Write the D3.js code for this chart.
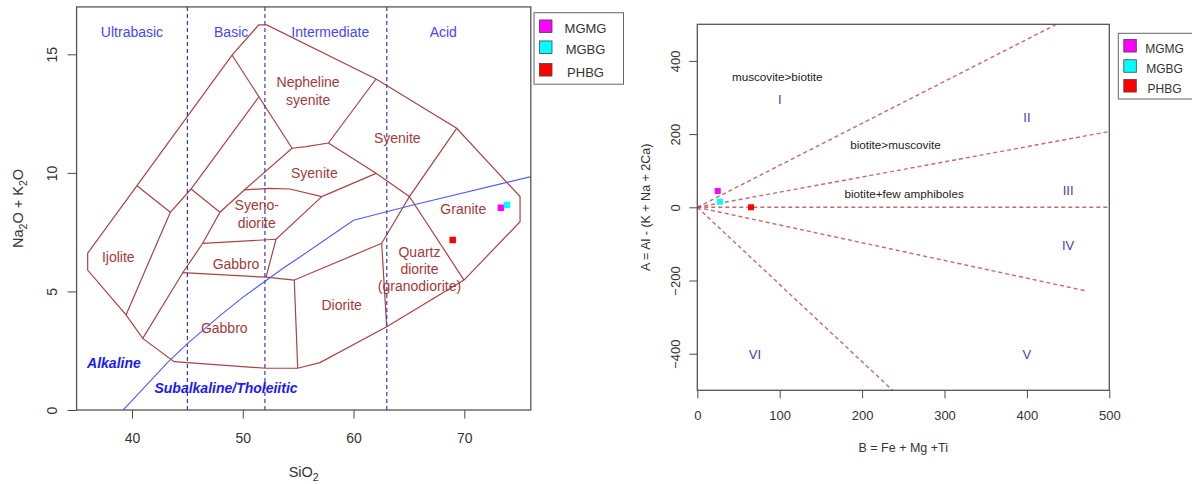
<!DOCTYPE html>
<html>
<head>
<meta charset="utf-8">
<script src="https://cdn.jsdelivr.net/npm/d3@7"></script>
<style>
  body { margin: 0; background: #fff; }
  svg { display: block; }
  text { font-family: "Liberation Sans", Arial, Helvetica, sans-serif; }
</style>
</head>
<body>
<svg id="chart" width="1192" height="484"></svg>
<script>
// ---------------- sample data ----------------
const groups  = ["MGMG", "MGBG", "PHBG"];
const sio2    = [73.3, 73.85, 68.95];   // wt% SiO2
const alkalis = [8.53, 8.65, 7.17];     // wt% Na2O + K2O
const paramB  = [24.8, 27.5, 65.2];     // B = Fe + Mg + Ti
const paramA  = [44.5, 15.3, 0];        // A = Al - (K + Na + 2Ca)

// ---------------- TAS plutonic grid (Cox et al. 1979) ----------------
const tasOutline = [[51.44,16.24],[52.16,16.24],[62.03,13.96],[69.31,11.88],[75.03,9.0],[75.03,7.94],
  [69.97,5.48],[62.99,3.51],[56.97,2.0],[54.96,1.76],[52.1,1.76],[43.8,2.04],[40.97,3.02],[39.46,4.01],
  [36.0,5.9],[36.0,6.61],[40.45,9.46],[49.03,14.97]];
const tasDividers = [
  [[49.03,14.97],[54.45,11.04]],
  [[51.44,13.2],[45.33,9.32],[43.46,8.34],[39.46,4.01]],
  [[40.45,9.46],[43.46,8.34]],
  [[45.33,9.32],[47.94,8.34]],
  [[54.45,11.04],[50.14,9.28],[47.94,8.34],[46.38,7.03],[44.58,5.79],[40.97,3.02]],
  [[54.45,11.04],[55.71,11.11],[57.73,11.26],[62.03,13.96]],
  [[57.73,11.26],[62.03,9.98],[65.04,9.0]],
  [[69.31,11.88],[65.04,9.0],[69.97,5.48]],
  [[65.04,9.0],[62.54,7.03],[62.99,3.51]],
  [[62.54,7.03],[54.65,5.48],[54.96,1.76]],
  [[62.03,9.98],[57.13,9.0]],
  [[50.14,9.28],[52.4,9.35],[54.26,9.32],[57.13,9.0]],
  [[57.13,9.0],[53.0,7.2],[52.1,5.6]],
  [[46.38,7.03],[53.0,7.2]],
  [[44.58,5.79],[52.1,5.6],[54.65,5.48]]
];
const fieldNames = ["Nepheline\nsyenite", "Syenite", "Syenite", "Syeno-\ndiorite", "Gabbro", "Gabbro",
  "Ijolite", "Diorite", "Quartz\ndiorite\n(granodiorite)", "Granite"];
const fieldSiO2 = [55.9, 63.95, 56.46, 51.26, 49.39, 48.33, 38.76, 58.93, 65.95, 69.91];
const fieldAlk  = [13.45, 11.48, 10.0, 8.27, 6.14, 3.45, 6.47, 4.43, 5.95, 8.46];

const silicaBounds = [45, 52, 63];
const silicaClasses = ["Ultrabasic", "Basic", "Intermediate", "Acid"];
const silicaClassX  = [40, 48.95, 57.9, 68.1];

// Irvine & Baragar (1971) alkaline / subalkaline divide
const alkLineSiO2 = [39.2, 40, 43.2, 45, 48, 50, 53.7, 55, 60, 65, 77.4];
const alkLineAlk  = [0, 0.4, 2, 2.8, 4, 4.75, 6, 6.4, 8, 8.6, 10];

const seriesNames = ["Alkaline", "Subalkaline/Tholeiitic"];
const seriesSiO2  = [38.37, 48.49];
const seriesAlk   = [1.97, 0.94];

// ---------------- A-B diagram (Debon & Le Fort) ----------------
const abDividerEnds = [[436, 500], [500, 207], [500, 0], [471, -228], [237, -500]];
const abSectors  = ["I", "II", "III", "IV", "V", "VI"];
const abSectorB  = [100, 400, 450, 450, 400, 70];
const abSectorA  = [296, 246, 45, -103, -402, -402];
const abNotes    = ["muscovite>biotite", "biotite>muscovite", "biotite+few amphiboles"];
const abNoteB    = [97, 240.5, 251];
const abNoteA    = [355, 170, 35.5];

const xTicksL = [40, 50, 60, 70];
const yTicksL = [0, 5, 10, 15];
const xTicksR = [0, 100, 200, 300, 400, 500];
const yTicksR = [-400, -200, 0, 200, 400];

// ---------------- drawing ----------------
const svg = d3.select("#chart");
svg.append("rect").attr("width", 1192).attr("height", 484).attr("fill", "#fff");

const groupColor = d3.scaleOrdinal().domain(groups).range(["#ff00ff", "#00ffff", "#ff0000"]);
const axisColor = "#4a4a4a";
const textColor = "#333";

function styleAxis(g) {
  g.selectAll("path.domain").remove();
  g.selectAll("line").attr("stroke", axisColor).attr("stroke-width", 1);
  g.selectAll("text").attr("fill", textColor);
}

// ===== left panel: TAS =====
const xL = d3.scaleLinear().domain([35, 76]).range([76.6, 530.8]);
const yL = d3.scaleLinear().domain([0, 17]).range([410, 6.9]);
const lineL = d3.line().x(d => xL(d[0])).y(d => yL(d[1]));

svg.append("clipPath").attr("id", "clipL").append("rect")
  .attr("x", xL(35)).attr("y", yL(17)).attr("width", xL(76) - xL(35)).attr("height", yL(0) - yL(17));
const gL = svg.append("g").attr("clip-path", "url(#clipL)");

// field outline and internal boundaries
gL.append("path").attr("d", lineL(tasOutline) + "Z")
  .attr("fill", "none").attr("stroke", "#a84444").attr("stroke-width", 1.2);
gL.selectAll("path.div").data(tasDividers).join("path").attr("class", "div")
  .attr("d", d => lineL(d)).attr("fill", "none").attr("stroke", "#a84444").attr("stroke-width", 1.2);

// silica-class boundaries
gL.selectAll("line.sil").data(silicaBounds).join("line").attr("class", "sil")
  .attr("x1", d => xL(d)).attr("x2", d => xL(d)).attr("y1", yL(17)).attr("y2", yL(0))
  .attr("stroke", "#3c3cb4").attr("stroke-width", 1.2).attr("stroke-dasharray", "4,3");

// alkaline / subalkaline curve
gL.append("path").attr("d", lineL(alkLineSiO2.map((s, i) => [s, alkLineAlk[i]])))
  .attr("fill", "none").attr("stroke", "#4d5cff").attr("stroke-width", 1.1);

// field names
const fieldText = gL.selectAll("text.field").data(fieldNames).join("text").attr("class", "field")
  .attr("text-anchor", "middle").attr("font-size", 14).attr("fill", "#a33a3a")
  .attr("x", (d, i) => xL(fieldSiO2[i])).attr("y", (d, i) => yL(fieldAlk[i]));
fieldText.each(function (d) {
  const lines = d.split("\n");
  const el = d3.select(this);
  const x = el.attr("x");
  lines.forEach((t, k) => {
    el.append("tspan").attr("x", x)
      .attr("dy", k === 0 ? ((-(lines.length - 1) / 2) * 17.2 + 5) : 17.2).text(t);
  });
});

// silica class names
gL.selectAll("text.cls").data(silicaClasses).join("text").attr("class", "cls")
  .attr("x", (d, i) => xL(silicaClassX[i])).attr("y", yL(15.95)).attr("dy", 5)
  .attr("text-anchor", "middle").attr("font-size", 14).attr("fill", "#4646ff").text(d => d);

// series names
gL.selectAll("text.ser").data(seriesNames).join("text").attr("class", "ser")
  .attr("x", (d, i) => xL(seriesSiO2[i])).attr("y", (d, i) => yL(seriesAlk[i])).attr("dy", 5)
  .attr("text-anchor", "middle").attr("font-size", 14).attr("font-weight", "bold")
  .attr("font-style", "italic").attr("fill", "#1a1aff").text(d => d);

// samples
const ptL = 6.5;
gL.selectAll("rect.pt").data(groups).join("rect").attr("class", "pt")
  .attr("x", (d, i) => xL(sio2[i]) - ptL / 2).attr("y", (d, i) => yL(alkalis[i]) - ptL / 2)
  .attr("width", ptL).attr("height", ptL).attr("fill", d => groupColor(d));

// frame and axes
svg.append("rect").attr("x", xL(35)).attr("y", yL(17)).attr("width", xL(76) - xL(35))
  .attr("height", yL(0) - yL(17)).attr("fill", "none").attr("stroke", "#555").attr("stroke-width", 1.3);

const axXL = svg.append("g").attr("transform", `translate(0,${yL(0)})`)
  .call(d3.axisBottom(xL).tickValues(xTicksL).tickSize(8.5).tickFormat(d3.format("d")));
styleAxis(axXL);
axXL.selectAll("text").attr("font-size", 14).attr("y", 23).attr("dy", "0.71em");

const axYL = svg.append("g").attr("transform", `translate(${xL(35)},0)`)
  .call(d3.axisLeft(yL).tickValues(yTicksL).tickSize(9).tickFormat(d3.format("d")));
styleAxis(axYL);
axYL.selectAll("text").attr("font-size", 14).attr("transform", "rotate(-90)")
  .attr("x", 0).attr("y", -19.5).attr("dy", 0).attr("text-anchor", "middle");

// axis titles
const tSi = svg.append("text").attr("x", (xL(35) + xL(76)) / 2).attr("y", 477)
  .attr("text-anchor", "middle").attr("font-size", 14.5).attr("fill", textColor);
tSi.append("tspan").text("SiO");
tSi.append("tspan").attr("font-size", 10.5).attr("dy", 4).text("2");

const tAlk = svg.append("text")
  .attr("transform", `translate(23,${(yL(0) + yL(17)) / 2}) rotate(-90)`)
  .attr("text-anchor", "middle").attr("font-size", 14.5).attr("fill", textColor);
tAlk.append("tspan").text("Na");
tAlk.append("tspan").attr("font-size", 10.5).attr("dy", 4).text("2");
tAlk.append("tspan").attr("dy", -4).text("O + K");
tAlk.append("tspan").attr("font-size", 10.5).attr("dy", 4).text("2");
tAlk.append("tspan").attr("dy", -4).text("O");

// legend (left)
function legend(x0, y0, w, h, sw, rowY, textX, fs) {
  const g = svg.append("g");
  g.append("rect").attr("x", x0).attr("y", y0).attr("width", w).attr("height", h)
    .attr("fill", "#fff").attr("stroke", "#666").attr("stroke-width", 1);
  g.selectAll("rect.sw").data(groups).join("rect").attr("class", "sw")
    .attr("x", x0 + 5.5).attr("y", (d, i) => rowY[i] - sw / 2).attr("width", sw).attr("height", sw)
    .attr("fill", d => groupColor(d)).attr("stroke", "#444").attr("stroke-width", 0.8);
  g.selectAll("text").data(groups).join("text")
    .attr("x", textX).attr("y", (d, i) => rowY[i] + 2.5).attr("dy", "0.35em")
    .attr("text-anchor", "middle").attr("font-size", fs).attr("fill", textColor).text(d => d);
}
legend(534, 12.7, 89.5, 71.5, 12.5, [26.2, 47.2, 69.8], 585.5, 13);

// ===== right panel: A-B diagram =====
const xR = d3.scaleLinear().domain([0, 500]).range([697.3, 1109.3]);
const yR = d3.scaleLinear().domain([-500, 500]).range([390.3, 24.3]);

svg.append("clipPath").attr("id", "clipR").append("rect")
  .attr("x", xR(0)).attr("y", yR(500)).attr("width", xR(500) - xR(0)).attr("height", yR(-500) - yR(500));
const gR = svg.append("g").attr("clip-path", "url(#clipR)");

gR.selectAll("line.ab").data(abDividerEnds).join("line").attr("class", "ab")
  .attr("x1", xR(0)).attr("y1", yR(0)).attr("x2", d => xR(d[0])).attr("y2", d => yR(d[1]))
  .attr("stroke", "#b84545").attr("stroke-opacity", 0.8).attr("stroke-width", 1.4)
  .attr("stroke-dasharray", "4,3");

gR.selectAll("text.sec").data(abSectors).join("text").attr("class", "sec")
  .attr("x", (d, i) => xR(abSectorB[i])).attr("y", (d, i) => yR(abSectorA[i])).attr("dy", "0.35em")
  .attr("text-anchor", "middle").attr("font-size", 13).attr("fill", "#4343b8").text(d => d);

gR.selectAll("text.note").data(abNotes).join("text").attr("class", "note")
  .attr("x", (d, i) => xR(abNoteB[i])).attr("y", (d, i) => yR(abNoteA[i])).attr("dy", "0.35em")
  .attr("text-anchor", "middle").attr("font-size", 11.7).attr("fill", "#222").text(d => d);

const ptR = 6;
gR.selectAll("rect.pt").data(groups).join("rect").attr("class", "pt")
  .attr("x", (d, i) => xR(paramB[i]) - ptR / 2).attr("y", (d, i) => yR(paramA[i]) - ptR / 2)
  .attr("width", ptR).attr("height", ptR).attr("fill", d => groupColor(d));

svg.append("rect").attr("x", xR(0)).attr("y", yR(500)).attr("width", xR(500) - xR(0))
  .attr("height", yR(-500) - yR(500)).attr("fill", "none").attr("stroke", "#555").attr("stroke-width", 1.3);

const axXR = svg.append("g").attr("transform", `translate(0,${yR(-500)})`)
  .call(d3.axisBottom(xR).tickValues(xTicksR).tickSize(8).tickFormat(d3.format("d")));
styleAxis(axXR);
axXR.selectAll("text").attr("font-size", 13).attr("y", 20.5).attr("dy", "0.71em");

const axYR = svg.append("g").attr("transform", `translate(${xR(0)},0)`)
  .call(d3.axisLeft(yR).tickValues(yTicksR).tickSize(8).tickFormat(d3.format("d")));
styleAxis(axYR);
axYR.selectAll("text").attr("font-size", 13).attr("transform", "rotate(-90)")
  .attr("x", 0).attr("y", -17.8).attr("dy", 0).attr("text-anchor", "middle");

svg.append("text").attr("x", (xR(0) + xR(500)) / 2).attr("y", 447.3).attr("dy", "0.35em")
  .attr("text-anchor", "middle").attr("font-size", 12.5).attr("fill", textColor).text("B = Fe + Mg +Ti");
svg.append("text")
  .attr("transform", `translate(649.5,${yR(0)}) rotate(-90)`)
  .attr("text-anchor", "middle").attr("font-size", 12.5).attr("fill", textColor)
  .text("A = Al - (K + Na + 2Ca)");

legend(1118.3, 33.3, 80, 65.7, 12.5, [45.8, 66, 85.8], 1164.5, 12);
</script>
</body>
</html>
